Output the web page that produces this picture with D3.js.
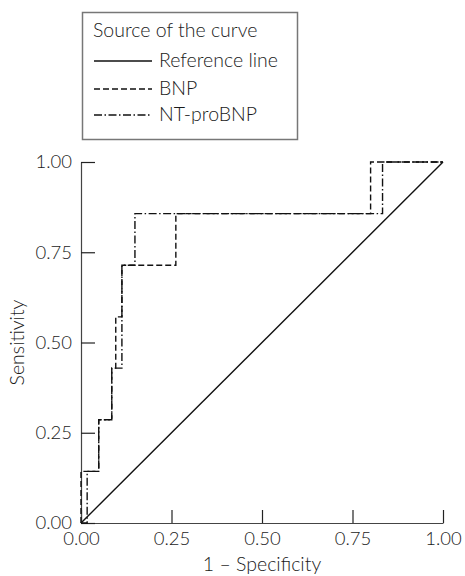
<!DOCTYPE html>
<html>
<head>
<meta charset="utf-8">
<script src="https://cdn.jsdelivr.net/npm/d3@7"></script>
<style>
  body { margin: 0; background: #fff; }
  svg { display: block; font-family: Lato, "Noto Sans", sans-serif; font-weight: 300; }
</style>
</head>
<body>
<svg id="chart" width="465" height="576"></svg>
<script>
// Data (1 - specificity, sensitivity)
const axisTicks = [0, 0.25, 0.5, 0.75, 1];
const referenceX = [0, 1];
const referenceY = [0, 1];
const bnpX = [0, 0, 0.049, 0.049, 0.085, 0.085, 0.096, 0.096, 0.113, 0.113, 0.262, 0.262, 0.80, 0.80, 1];
const bnpY = [0, 0.143, 0.143, 0.286, 0.286, 0.429, 0.429, 0.571, 0.571, 0.714, 0.714, 0.857, 0.857, 1, 1];
const ntX = [0, 0.017, 0.017, 0.049, 0.049, 0.085, 0.085, 0.113, 0.113, 0.149, 0.149, 0.833, 0.833, 1];
const ntY = [0, 0, 0.143, 0.143, 0.286, 0.286, 0.429, 0.429, 0.714, 0.714, 0.857, 0.857, 1, 1];
const legendTitle = "Source of the curve";
const seriesNames = ["Reference line", "BNP", "NT-proBNP"];
const dashes = ["none", "6,3", "8,2.5,1.5,2.5"];

const svg = d3.select("#chart");

const x = d3.scaleLinear().domain([0, 1]).range([81, 443]);
const y = d3.scaleLinear().domain([0, 1]).range([523, 162]);

// Axes, ticks pointing into the plot
const xAxis = svg.append("g")
    .attr("transform", `translate(0, ${y(0)})`)
    .call(d3.axisBottom(x).tickValues(axisTicks).tickFormat(d3.format(".2f"))
        .tickSizeInner(-13).tickSizeOuter(0).tickPadding(9));

const yAxis = svg.append("g")
    .attr("transform", `translate(${x(0)}, 0)`)
    .call(d3.axisLeft(y).tickValues(axisTicks).tickFormat(d3.format(".2f"))
        .tickSizeInner(-14).tickSizeOuter(0).tickPadding(9));

[xAxis, yAxis].forEach(a => {
    a.select(".domain").attr("stroke", "#444").attr("stroke-width", 1.2);
    a.selectAll(".tick line").attr("stroke", "#222").attr("stroke-width", 1.2);
    a.selectAll(".tick text")
        .attr("fill", "#1a1a1a")
        .style("font-size", "18.5px")
        .style("font-family", "Lato, 'Noto Sans', sans-serif")
        .style("font-weight", 300);
});

// Axis titles
svg.append("text")
    .attr("x", (x(0) + x(1)) / 2)
    .attr("y", 571)
    .attr("text-anchor", "middle")
    .attr("fill", "#1a1a1a")
    .style("font-size", "19.5px")
    .text("1 \u2013 Specificity");

svg.append("text")
    .attr("transform", `translate(24, ${(y(0) + y(1)) / 2}) rotate(-90)`)
    .attr("text-anchor", "middle")
    .attr("fill", "#1a1a1a")
    .style("font-size", "19.5px")
    .text("Sensitivity");

// Curves
const line = d3.line().x(d => x(d[0])).y(d => y(d[1]));
const curves = [
    d3.zip(referenceX, referenceY),
    d3.zip(bnpX, bnpY),
    d3.zip(ntX, ntY)
];

svg.append("g").selectAll("path")
    .data(curves)
    .join("path")
    .attr("d", line)
    .attr("fill", "none")
    .attr("stroke", "#111")
    .attr("stroke-width", 1.4)
    .attr("stroke-dasharray", (d, i) => dashes[i]);

// Legend
const legend = svg.append("g");
legend.append("rect")
    .attr("x", 82.5).attr("y", 12.5)
    .attr("width", 215).attr("height", 127)
    .attr("fill", "#fff")
    .attr("stroke", "#777")
    .attr("stroke-width", 1.5);

legend.append("text")
    .attr("x", 93).attr("y", 37)
    .attr("fill", "#1a1a1a")
    .style("font-size", "19.5px")
    .text(legendTitle);

const rowY = [67, 95, 121];
const items = legend.selectAll("g.item")
    .data(seriesNames)
    .join("g")
    .attr("class", "item")
    .attr("transform", (d, i) => `translate(0, ${rowY[i]})`);

items.append("line")
    .attr("x1", 94).attr("x2", 152)
    .attr("y1", -6).attr("y2", -6)
    .attr("stroke", "#111")
    .attr("stroke-width", 1.4)
    .attr("stroke-dasharray", (d, i) => dashes[i]);

items.append("text")
    .attr("x", 159).attr("y", 0)
    .attr("fill", "#1a1a1a")
    .style("font-size", "19.5px")
    .text(d => d);
</script>
</body>
</html>
